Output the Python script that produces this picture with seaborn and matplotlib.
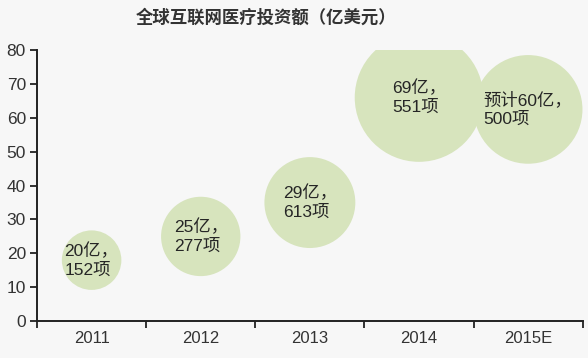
import matplotlib
matplotlib.use("Agg")
import matplotlib.pyplot as plt
import seaborn as sns
import pandas as pd

# ---- data ----
years = ["2011", "2012", "2013", "2014", "2015E"]
bubble_y = [18, 25, 35, 66, 62.5]
bubble_size = [18, 32, 42, 84, 60]          # relative bubble areas
invest = ["20亿，", "25亿，", "29亿，", "69亿，", "预计60亿，"]
deals = ["152项", "277项", "613项", "551项", "500项"]
y_ticks = [0, 10, 20, 30, 40, 50, 60, 70, 80]
title = "全球互联网医疗投资额（亿美元）"

sns.set_theme(style="white")
plt.rcParams["font.family"] = ["Liberation Sans", "Noto Sans CJK SC", "DejaVu Sans"]

bg = "#f7f7f7"
fig = plt.figure(figsize=(5.88, 3.58), dpi=100, facecolor=bg)
ax = fig.add_axes([0.063, 0.103, 0.928, 0.757])
ax.set_facecolor(bg)

df = pd.DataFrame({"x": range(len(years)), "y": bubble_y, "year": years,
                   "s": [v * 102 for v in bubble_size]})
sns.scatterplot(data=df, x="x", y="y", size="year",
                sizes=dict(zip(df["year"], df["s"])),
                color="#d7e4bd", edgecolor="none", alpha=1.0,
                legend=False, ax=ax, zorder=2)

for i in range(len(years)):
    ax.text(i, bubble_y[i], invest[i] + "\n" + deals[i], ha="center", va="center",
            multialignment="left", fontsize=12.5, color="#262626", linespacing=1.3,
            family=["Liberation Sans", "Noto Sans CJK SC"], zorder=3)

ax.set_xlim(-0.5, len(years) - 0.5)
ax.set_ylim(0, 80)
ax.set_yticks(y_ticks)
ax.set_xticks([i - 0.5 for i in range(len(years) + 1)])
ax.set_xticklabels([])
ax.set_xticks(range(len(years)), minor=True)
ax.set_xticklabels(years, minor=True)
ax.tick_params(axis="x", which="major", direction="out", length=5, width=1.3, color="#222222", bottom=True)
ax.tick_params(axis="x", which="minor", length=0, labelsize=12, labelcolor="#333333", pad=7)
ax.tick_params(axis="y", direction="out", length=5, width=1.3, color="#222222", left=True,
               labelsize=12.5, labelcolor="#333333", pad=3)
ax.set_xlabel("")
ax.set_ylabel("")

for side in ["top", "right"]:
    ax.spines[side].set_visible(False)
for side in ["left", "bottom"]:
    ax.spines[side].set_color("#222222")
    ax.spines[side].set_linewidth(1.4)

fig.text(0.452, 0.95, title, ha="center", va="center", fontsize=12.5,
         color="#333333", fontweight="bold", family=["Noto Sans CJK SC", "DejaVu Sans"])

fig.savefig("out.png", dpi=100, facecolor=bg)
